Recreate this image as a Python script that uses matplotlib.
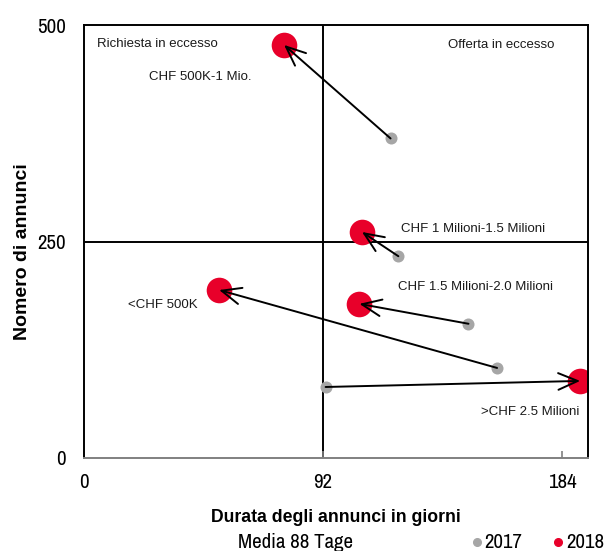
import matplotlib.pyplot as plt
from matplotlib.lines import Line2D
from matplotlib import font_manager
from matplotlib.font_manager import FontProperties

plt.rcParams['font.family'] = ['Liberation Sans', 'DejaVu Sans']

# condensed face for ticks and footer, when available
narrow_path = None
for f in font_manager.fontManager.ttflist:
    base = f.fname.rsplit('/', 1)[-1]
    if 'Narrow' in base and 'Bold' not in base and 'Italic' not in base:
        narrow_path = f.fname
        break


def narrow_props(size):
    if narrow_path:
        return FontProperties(fname=narrow_path, size=size)
    return FontProperties(family='Liberation Sans', size=size * 0.82)


segments = ["CHF 500K-1 Mio.", "CHF 1 Milioni-1.5 Milioni", "CHF 1.5 Milioni-2.0 Milioni",
            "<CHF 500K", ">CHF 2.5 Milioni"]
days_2017 = [118, 121, 148, 159, 93]
ads_2017 = [369, 233, 155, 104, 82]
days_2018 = [77, 107, 106, 52, 191]
ads_2018 = [477, 261, 178, 194, 89]
label_pos = [(25, 440), (122, 264), (121, 197), (17, 177), (153, 53)]

x_ticks = [0, 92, 184]
y_ticks = [0, 250, 500]
mean_days = 92
mid_ads = 250
years = ['2017', '2018']
year_colors = ['#a6a6a6', '#e8002a']

fig = plt.figure(figsize=(6.09, 5.51), dpi=100)
ax = fig.add_axes([0.138, 0.1688, 0.8275, 0.7858])
ax.set_xlim(0, 194)
ax.set_ylim(0, 500)

ax.axvline(mean_days, color='black', lw=1.4, zorder=1)
ax.axhline(mid_ads, color='black', lw=1.4, zorder=1)

ax.scatter(days_2017, ads_2017, s=75, color=year_colors[0], zorder=2, linewidths=0)
ax.scatter(days_2018, ads_2018, s=340, color=year_colors[1], zorder=2, linewidths=0)

for x0, y0, x1, y1 in zip(days_2017, ads_2017, days_2018, ads_2018):
    ax.annotate('', xy=(x1, y1), xytext=(x0, y0),
                arrowprops=dict(arrowstyle='->,head_length=1.4,head_width=0.6',
                                color='black', lw=1.4, shrinkA=0, shrinkB=0),
                zorder=3)

for name, (lx, ly) in zip(segments, label_pos):
    ax.text(lx, ly, name, fontsize=9.5, color='#1a1a1a', va='center', ha='left')

ax.text(5, 478, "Richiesta in eccesso", fontsize=9.5, color='#1a1a1a', va='center', ha='left')
ax.text(140, 477, "Offerta in eccesso", fontsize=9.5, color='#1a1a1a', va='center', ha='left')

tick_size = 15
ax.set_xticks(x_ticks)
ax.set_yticks(y_ticks)
ax.tick_params(axis='x', direction='in', length=5, color='#808080', width=1.2, pad=11)
ax.tick_params(axis='y', length=0, pad=13)
for lab in ax.get_xticklabels() + ax.get_yticklabels():
    lab.set_fontproperties(narrow_props(tick_size))
for side in ['left', 'top', 'right']:
    ax.spines[side].set_color('black')
    ax.spines[side].set_linewidth(1.4)
ax.spines['bottom'].set_color('#808080')
ax.spines['bottom'].set_linewidth(1.4)

ax.set_ylabel("Nomero di annunci", fontsize=14, fontweight='bold')
ax.yaxis.set_label_coords(-0.105, 0.476)
fig.text(336 / 609, 1 - 518 / 551, "Durata degli annunci in giorni", fontsize=12.7,
         fontweight='bold', ha='center', va='center')

fig.text(296 / 609, 1 - 542 / 551, "Media 88 Tage",
         fontproperties=narrow_props(tick_size), ha='center', va='center')

# legend: dot followed by year
for (dot_x, text_x), year, col in zip([(477, 484), (558, 566)], years, year_colors):
    fig.add_artist(Line2D([dot_x / 609], [1 - 542 / 551], marker='o', ls='',
                          color=col, markersize=5.5, transform=fig.transFigure))
    fig.text(text_x / 609, 1 - 542 / 551, year, fontproperties=narrow_props(tick_size),
             ha='left', va='center')

fig.savefig('out.png', dpi=100)
